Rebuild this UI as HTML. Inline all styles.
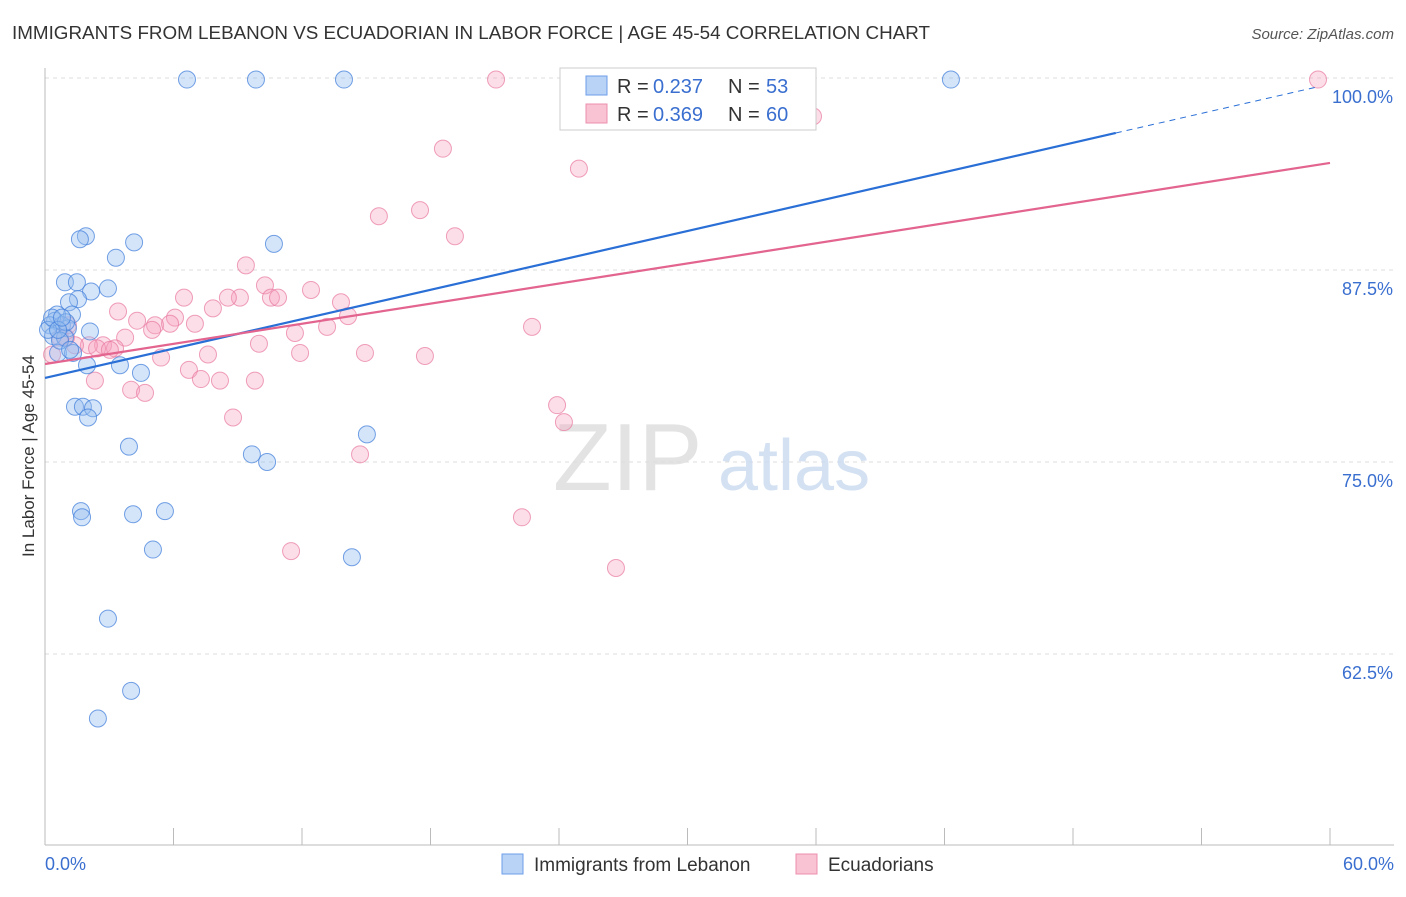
<!DOCTYPE html>
<html><head><meta charset="utf-8"><style>
body{margin:0;background:#fff;font-family:"Liberation Sans",sans-serif;}
svg text{font-family:"Liberation Sans",sans-serif;}
</style></head><body>
<svg id="chart" width="1406" height="892" viewBox="0 0 1406 892" xmlns="http://www.w3.org/2000/svg">
<text x="12" y="39" font-size="18" fill="#333" textLength="918" lengthAdjust="spacingAndGlyphs">IMMIGRANTS FROM LEBANON VS ECUADORIAN IN LABOR FORCE | AGE 45-54 CORRELATION CHART</text>
<text x="1394" y="39" font-size="15" fill="#555" font-style="italic" text-anchor="end">Source: ZipAtlas.com</text>
<text transform="translate(34,456) rotate(-90)" font-size="17" fill="#333" text-anchor="middle">In Labor Force | Age 45-54</text>
<g id="grid"></g>
<g id="axes"></g>
<text x="553" y="490" font-size="96" fill="#ddd" font-family="Liberation Serif" opacity="0.8">ZIP</text>
<text x="718" y="490" font-size="72" fill="#c9daf0" opacity="0.8">atlas</text>
<g id="pts"></g>
<g id="lines"></g>
<g>
<rect x="560" y="68" width="256" height="62" fill="#fff" stroke="#ccc"/>
<rect x="586" y="76" width="21" height="19" fill="#b9d3f7" stroke="#6d9ee8"/>
<rect x="586" y="104" width="21" height="19" fill="#f9c3d4" stroke="#ec8fad"/>
<text x="617" y="93" font-size="20" fill="#333">R =</text>
<text x="653" y="93" font-size="20" fill="#3a6fd0">0.237</text>
<text x="728" y="93" font-size="20" fill="#333">N =</text>
<text x="766" y="93" font-size="20" fill="#3a6fd0">53</text>
<text x="617" y="121" font-size="20" fill="#333">R =</text>
<text x="653" y="121" font-size="20" fill="#3a6fd0">0.369</text>
<text x="728" y="121" font-size="20" fill="#333">N =</text>
<text x="766" y="121" font-size="20" fill="#3a6fd0">60</text>
</g>
<g>
<rect x="502" y="854" width="21" height="20" fill="#b9d3f7" stroke="#6d9ee8"/>
<text x="534" y="871" font-size="19" fill="#333">Immigrants from Lebanon</text>
<rect x="796" y="854" width="21" height="20" fill="#f9c3d4" stroke="#ec8fad"/>
<text x="828" y="871" font-size="19" fill="#333">Ecuadorians</text>
</g>
</svg>
<script>
const yTicks=[100,87.5,75,62.5];
const yTickLabels=["100.0%","87.5%","75.0%","62.5%"];
const xTicks=[0,6,12,18,24,30,36,42,48,54,60];
const blueX=[6.63,9.85,13.96,42.30,1.91,1.63,4.16,10.69,3.31,0.93,1.49,2.15,2.94,1.54,1.12,1.26,0.56,0.47,0.23,0.79,1.07,2.10,0.37,0.93,0.61,1.31,1.96,3.50,4.48,1.40,1.77,2.24,2.01,3.92,9.66,10.37,15.03,1.68,1.73,4.11,5.60,5.04,14.33,2.94,4.02,2.47,0.14,0.33,0.70,1.17,0.98,0.61,0.79];
const blueY=[99.9,99.9,99.9,99.9,89.7,89.5,89.3,89.2,88.3,86.7,86.7,86.1,86.3,85.6,85.4,84.6,84.6,84.2,83.9,83.9,83.7,83.5,83.2,83.1,82.1,82.1,81.3,81.3,80.8,78.6,78.6,78.5,77.9,76.0,75.5,75.0,76.8,71.8,71.4,71.6,71.8,69.3,68.8,64.8,60.1,58.3,83.6,84.4,82.9,82.3,84.1,83.6,84.4];
const pinkX=[21.06,59.44,35.86,18.58,24.93,15.59,17.51,19.14,9.38,10.27,6.49,9.10,8.54,10.55,10.88,12.42,7.84,13.82,3.41,4.30,6.07,14.15,5.14,5.84,7.00,5.00,13.17,22.74,11.67,3.74,0.98,2.71,3.27,9.99,2.05,2.43,7.61,11.91,14.94,17.74,5.42,6.72,2.33,4.02,4.67,7.28,8.17,9.80,23.91,24.23,8.78,14.71,22.27,11.49,26.66,0.33,1.40,0.70,3.03,1.07];
const pinkY=[99.9,99.9,97.5,95.4,94.1,91.0,91.4,89.7,87.8,86.5,85.7,85.7,85.7,85.7,85.7,86.2,85.0,85.4,84.8,84.2,84.4,84.5,83.9,84.0,84.0,83.6,83.8,83.8,83.4,83.1,83.1,82.6,82.4,82.7,82.6,82.4,82.0,82.1,82.1,81.9,81.8,81.0,80.3,79.7,79.5,80.4,80.3,80.3,78.7,77.6,77.9,75.5,71.4,69.2,68.1,82.0,82.6,83.1,82.3,83.9];
const blueFit=[80.47,0.319];
const pinkFit=[81.38,0.2182];
const NS="http://www.w3.org/2000/svg";
const xs=v=>45+v/60*1285, ys=v=>78+(100-v)/12.5*192;
function mk(tag,attrs,parent){const e=document.createElementNS(NS,tag);for(const k in attrs)e.setAttribute(k,attrs[k]);parent.appendChild(e);return e;}
const grid=document.getElementById('grid'),axes=document.getElementById('axes'),pts=document.getElementById('pts'),lines=document.getElementById('lines');
yTicks.forEach((t,i)=>{
 const g=mk('line',{x1:45,x2:1394,y1:ys(t),y2:ys(t),stroke:'#ddd','stroke-dasharray':'4,4'},grid);
 
 
 const l=mk('text',{x:1393,y:ys(t)+25,'font-size':18,fill:'#3a6fd0','text-anchor':'end'},axes);
 l.textContent=yTickLabels[i];
 
 
});
const ya=mk('line',{x1:45,x2:45,y1:68,y2:845,stroke:'#bbb'},axes);


const xa=mk('line',{x1:45,x2:1394,y1:845,y2:845,stroke:'#bbb'},axes);


xTicks.forEach(t=>{
 const k=mk('line',{x1:xs(t),x2:xs(t),y1:828,y2:845,stroke:'#bbb'},axes);
 
 
});
const x0=mk('text',{x:45,y:870,'font-size':18,fill:'#3a6fd0'},axes);x0.textContent='0.0%';


const x1=mk('text',{x:1394,y:870,'font-size':18,fill:'#3a6fd0','text-anchor':'end'},axes);x1.textContent='60.0%';


pinkX.forEach((v,i)=>{
 const c=mk('circle',{cx:xs(v),cy:ys(pinkY[i]),r:8.5,fill:'rgba(246,160,188,0.35)',stroke:'rgba(232,120,160,0.7)','stroke-width':1},pts);
 
 
});
blueX.forEach((v,i)=>{
 const c=mk('circle',{cx:xs(v),cy:ys(blueY[i]),r:8.5,fill:'rgba(150,190,240,0.4)',stroke:'rgba(70,130,220,0.75)','stroke-width':1},pts);
 
 
});
const bl=mk('line',{x1:xs(0),y1:ys(blueFit[0]),x2:xs(50),y2:ys(blueFit[0]+blueFit[1]*50),stroke:'#2a6fd6','stroke-width':2.2},lines);


const bd=mk('line',{x1:xs(50),y1:ys(blueFit[0]+blueFit[1]*50),x2:xs(59.4),y2:ys(blueFit[0]+blueFit[1]*59.4),stroke:'#2a6fd6','stroke-width':1,'stroke-dasharray':'6,5'},lines);


const pl=mk('line',{x1:xs(0),y1:ys(pinkFit[0]),x2:xs(60),y2:ys(pinkFit[0]+pinkFit[1]*60),stroke:'#e2648f','stroke-width':2.2},lines);


</script>
</body></html>
